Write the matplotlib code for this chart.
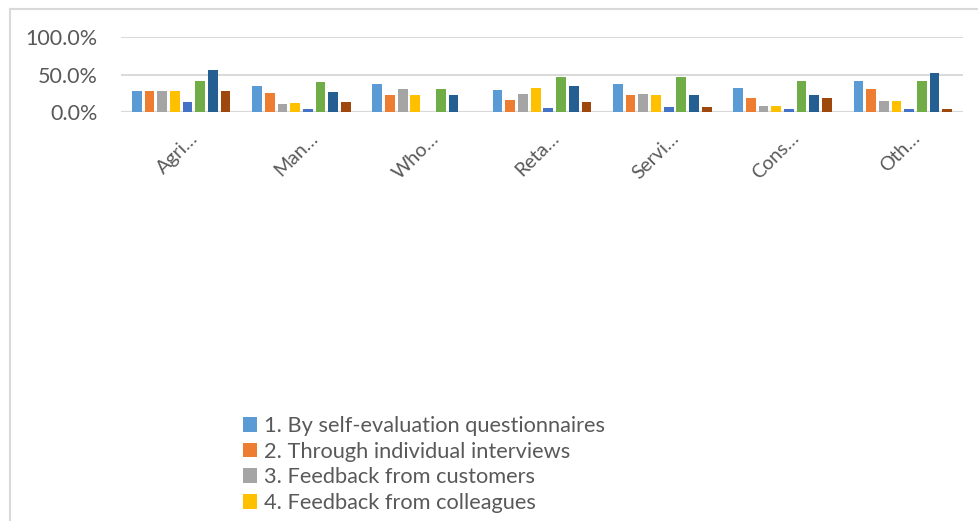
import matplotlib
matplotlib.use("Agg")
import matplotlib.pyplot as plt
import numpy as np
from matplotlib.patches import Patch
from matplotlib.lines import Line2D
from matplotlib.transforms import ScaledTranslation
from matplotlib.ticker import FuncFormatter

plt.rcParams['font.family'] = ['Lato', 'DejaVu Sans']

categories = ["Agri…", "Man…", "Who…", "Reta…", "Servi…", "Cons…", "Oth…"]

# share of companies per evaluation method (fractions)
s1_self_eval = [0.281, 0.349, 0.380, 0.295, 0.371, 0.326, 0.411]
s2_interviews = [0.280, 0.259, 0.223, 0.161, 0.228, 0.183, 0.308]
s3_customers = [0.280, 0.103, 0.304, 0.241, 0.241, 0.085, 0.152]
s4_colleagues = [0.280, 0.116, 0.223, 0.326, 0.228, 0.085, 0.152]
s5 = [0.139, 0.036, 0.0, 0.049, 0.071, 0.040, 0.040]
s6 = [0.420, 0.407, 0.304, 0.465, 0.469, 0.420, 0.411]
s7 = [0.563, 0.273, 0.223, 0.353, 0.228, 0.228, 0.518]
s8 = [0.280, 0.139, 0.0, 0.134, 0.067, 0.183, 0.040]

series = [s1_self_eval, s2_interviews, s3_customers, s4_colleagues, s5, s6, s7, s8]
colors = ["#5B9BD5", "#ED7D31", "#A5A5A5", "#FFC000",
          "#4472C4", "#70AD47", "#255E91", "#9E480E"]
legend_labels = ["1. By self-evaluation questionnaires",
                 "2. Through individual interviews",
                 "3. Feedback from customers",
                 "4. Feedback from colleagues"]

W, H = 979, 521
fig = plt.figure(figsize=(W / 100, H / 100), dpi=100)
fig.patch.set_facecolor("white")

# plot area in pixel coordinates
left_px, right_px = 121, 963
zero_px, top_px = 112, 37.3
ax = fig.add_axes([left_px / W, 1 - zero_px / H,
                   (right_px - left_px) / W, (zero_px - top_px) / H])

x = np.arange(len(categories))
pitch = 0.1056
bar_w = 0.081
for k, (vals, c) in enumerate(zip(series, colors)):
    ax.bar(x + (k - 3.5) * pitch, vals, width=bar_w, color=c, zorder=3)

ax.set_xlim(-0.5, len(categories) - 0.5)
ax.set_ylim(0, 1.0)
ax.set_yticks([0, 0.5, 1.0])
ax.yaxis.set_major_formatter(FuncFormatter(lambda v, p: f"{v * 100:.1f}%"))
ax.grid(axis='y', color="#D9D9D9", linewidth=1.4, zorder=0)
for sp in ax.spines.values():
    sp.set_visible(False)
ax.axhline(0, color="#D9D9D9", linewidth=1.6, zorder=2)

ax.tick_params(axis='y', length=0, pad=17, labelsize=15.5, labelcolor="#595959")
ax.tick_params(axis='x', length=0, pad=17, labelsize=14, labelcolor="#595959")
ax.set_xticks(x)
ax.set_xticklabels(categories, rotation=45, ha='right', va='center',
                   rotation_mode='anchor')
offset = ScaledTranslation(14 / 100, 0, fig.dpi_scale_trans)
for lbl in ax.get_xticklabels():
    lbl.set_transform(lbl.get_transform() + offset)

# chart frame (left and top edges)
fig.add_artist(Line2D([9.5 / W, 9.5 / W], [0, 1 - 8.5 / H],
                      transform=fig.transFigure, color="#D9D9D9", linewidth=1.5))
fig.add_artist(Line2D([9.5 / W, 1], [1 - 8.5 / H, 1 - 8.5 / H],
                      transform=fig.transFigure, color="#D9D9D9", linewidth=1.5))

handles = [Patch(facecolor=c) for c in colors[:4]]
fig.legend(handles, legend_labels, loc='upper left',
           bbox_to_anchor=(243 / W, 1 - 416 / H), frameon=False,
           fontsize=15.7, labelcolor="#595959", handlelength=0.65,
           handleheight=0.65, handletextpad=0.3, labelspacing=0.26,
           borderpad=0, borderaxespad=0)

fig.savefig("out.png", dpi=100)
